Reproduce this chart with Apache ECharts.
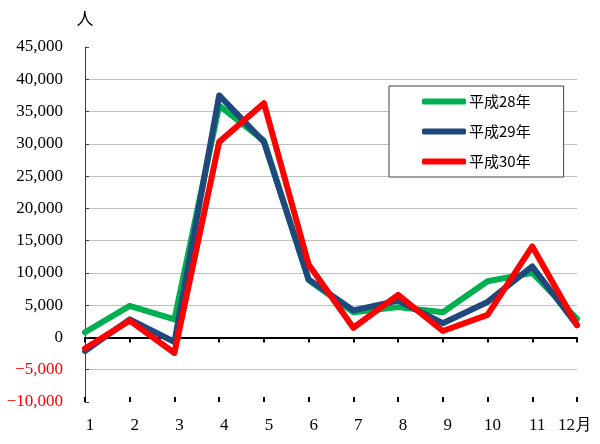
<!DOCTYPE html>
<html>
<head>
<meta charset="utf-8">
<script src="https://cdn.jsdelivr.net/npm/echarts@6/dist/echarts.min.js"></script>
<style>
html,body{margin:0;padding:0;background:#fff;}
#chart{width:600px;height:444px;}
</style>
</head>
<body>
<div id="chart"></div>
<script>
var months = ['1','2','3','4','5','6','7','8','9','10','11','12月'];
var seriesNames = ['平成28年','平成29年','平成30年'];
var h28 = [800, 4900, 2800, 35900, 30500, 8900, 3900, 4700, 3900, 8700, 10000, 2900];
var h29 = [-2100, 2800, -700, 37500, 30300, 9000, 4200, 5700, 2200, 5500, 11000, 1900];
var h30 = [-1700, 2600, -2400, 30300, 36300, 11300, 1500, 6600, 1000, 3500, 14100, 1900];
var yMin = -10000, yMax = 45000, yStep = 5000;
var colors = ['#00B050', '#1F497D', '#FF0000'];

var serifFont = '"Liberation Serif", "DejaVu Serif", serif';
var jpFont = '"Noto Sans CJK JP", sans-serif';

function fmtNum(v){
  var s = Math.abs(v).toString().replace(/\B(?=(\d{3})+(?!\d))/g, ',');
  return (v < 0 ? '\u2212' : '') + s;
}

var gridColors = [];
for (var v = yMin; v <= yMax; v += yStep) {
  gridColors.push((v === yMin || v === yMax) ? 'rgba(0,0,0,0)' : '#bfbfbf');
}

var chart = echarts.init(document.getElementById('chart'), null, {renderer: 'canvas'});
var option = {
  animation: false,
  backgroundColor: '#fff',
  grid: {left: 85, right: 23, top: 47, bottom: 42, containLabel: false},
  legend: {
    orient: 'vertical',
    left: 389, top: 86,
    padding: [8, 33, 8, 33],
    backgroundColor: '#fff',
    borderColor: '#404040',
    borderWidth: 1,
    itemWidth: 44,
    itemHeight: 6,
    itemGap: 15,
    icon: 'roundRect',
    data: seriesNames,
    textStyle: {fontFamily: jpFont, fontSize: 15, color: '#000', lineHeight: 15, padding: [0,0,0,-2]}
  },
  xAxis: [
    {
      type: 'category', data: months, boundaryGap: false, position: 'bottom',
      axisLine: {onZero: true, lineStyle: {color: '#000', width: 2}},
      axisTick: {show: true, inside: false, length: 5, interval: 0, lineStyle: {color: '#000', width: 2}},
      axisLabel: {show: false},
      splitLine: {show: false}
    },
    {
      type: 'category', data: months, boundaryGap: false, position: 'bottom',
      axisLine: {show: false, onZero: true},
      axisTick: {show: true, inside: true, length: 5, interval: 0, lineStyle: {color: '#000', width: 2}},
      axisLabel: {show: false},
      splitLine: {show: false}
    },
    {
      type: 'category', data: months, boundaryGap: false, position: 'bottom',
      axisLine: {show: false, onZero: false},
      axisTick: {show: false},
      splitLine: {show: false},
      axisLabel: {
        show: true, interval: 0, margin: 15,
        fontFamily: serifFont, fontSize: 17, color: '#000',
        formatter: function(val){ return val === '12月' ? '{b|' + val + '}' : '{a|' + val + '}'; },
        rich: {
          a: {fontFamily: serifFont, fontSize: 17, color: '#000', padding: [0,0,0,10]},
          b: {fontFamily: serifFont, fontSize: 17, color: '#000', padding: [0,4,0,0]}
        }
      }
    }
  ],
  yAxis: {
    type: 'value', min: yMin, max: yMax, interval: yStep,
    name: '人', nameLocation: 'end', nameGap: 20,
    nameTextStyle: {fontFamily: jpFont, fontSize: 17, color: '#000', align: 'center'},
    axisLine: {show: true, lineStyle: {color: '#404040', width: 1}},
    axisTick: {show: true, inside: true, length: 4, lineStyle: {color: '#404040'}},
    axisLabel: {
      margin: 22, fontFamily: serifFont, fontSize: 17,
      formatter: function(v){ return fmtNum(v); },
      color: function(v){ return Number(v) < 0 ? '#FF0000' : '#000'; }
    },
    splitLine: {show: true, lineStyle: {color: gridColors, width: 1}}
  },
  series: [
    {name: seriesNames[0], type: 'line', data: h28, xAxisIndex: 0, symbol: 'none',
     lineStyle: {color: colors[0], width: 6, join: 'round', cap: 'round'}, itemStyle: {color: colors[0]}},
    {name: seriesNames[1], type: 'line', data: h29, xAxisIndex: 0, symbol: 'none',
     lineStyle: {color: colors[1], width: 6, join: 'round', cap: 'round'}, itemStyle: {color: colors[1]}},
    {name: seriesNames[2], type: 'line', data: h30, xAxisIndex: 0, symbol: 'none',
     lineStyle: {color: colors[2], width: 6, join: 'round', cap: 'round'}, itemStyle: {color: colors[2]}}
  ]
};
chart.setOption(option);
</script>
</body>
</html>
